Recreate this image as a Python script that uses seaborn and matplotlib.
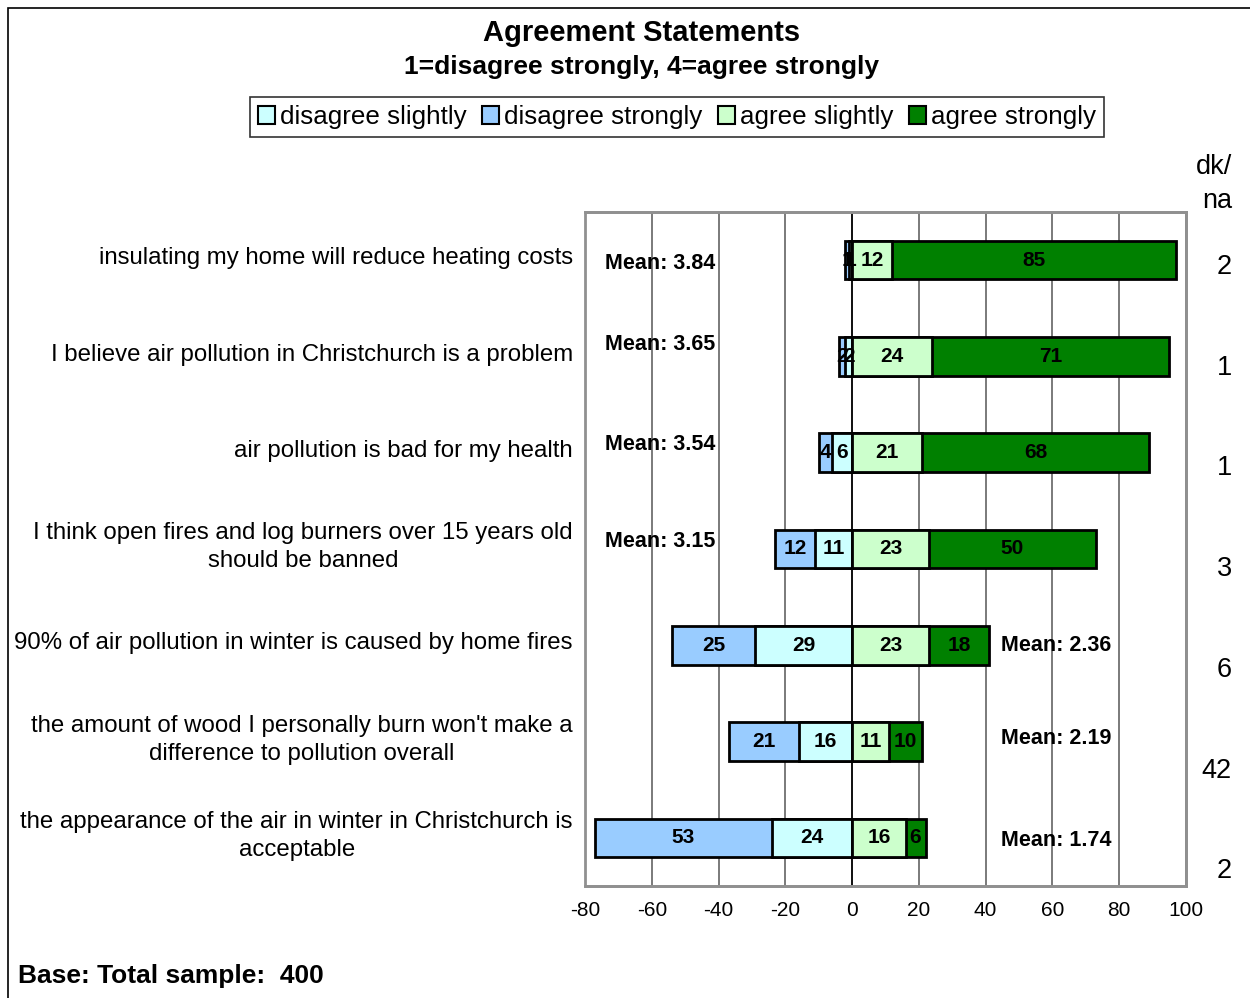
import pandas as pd
import matplotlib.pyplot as plt
import seaborn as sns
from matplotlib.patches import Rectangle, Patch

# Данные
statements = [
    "insulating my home will reduce heating costs",
    "I believe air pollution in Christchurch is a problem",
    "air pollution is bad for my health",
    "I think open fires and log burners over 15 years old\nshould be banned",
    "90% of air pollution in winter is caused by home fires",
    "the amount of wood I personally burn won't make a\ndifference to pollution overall",
    "the appearance of the air in winter in Christchurch is\nacceptable",
]
disagree_strongly = [1, 2, 4, 12, 25, 21, 53]
disagree_slightly = [1, 2, 6, 11, 29, 16, 24]
agree_slightly = [12, 24, 21, 23, 23, 11, 16]
agree_strongly = [85, 71, 68, 50, 18, 10, 6]
means = [3.84, 3.65, 3.54, 3.15, 2.36, 2.19, 1.74]
dk_na = [2, 1, 1, 3, 6, 42, 2]
x_ticks = [-80, -60, -40, -20, 0, 20, 40, 60, 80, 100]

colors = {
    "disagree slightly": "#CCFFFF",
    "disagree strongly": "#99CCFF",
    "agree slightly": "#CCFFCC",
    "agree strongly": "#008000",
}

df = pd.DataFrame({
    "statement": statements,
    "ds": disagree_strongly,
    "dsl": disagree_slightly,
    "asl": agree_slightly,
    "ast": agree_strongly,
})
# накопленные значения для "стопки"
df["neg_total"] = -(df["ds"] + df["dsl"])
df["neg_inner"] = -df["dsl"]
df["pos_total"] = df["asl"] + df["ast"]
df["pos_inner"] = df["asl"]

sns.set_style("white")
plt.rcParams["font.family"] = ["Liberation Sans", "DejaVu Sans"]
plt.rcParams["text.color"] = "black"
plt.rcParams["xtick.color"] = "black"
plt.rcParams["ytick.color"] = "black"

fig = plt.figure(figsize=(12.5, 9.98), dpi=100)
ax = fig.add_axes([585 / 1250, 1 - 886 / 998, 601 / 1250, 674 / 998])

bar_kw = dict(y="statement", order=statements, orient="h", width=0.4,
              edgecolor="black", linewidth=2, saturation=1, errorbar=None,
              ax=ax, zorder=3)
sns.barplot(data=df, x="neg_total", color=colors["disagree strongly"], **bar_kw)
sns.barplot(data=df, x="neg_inner", color=colors["disagree slightly"], **bar_kw)
sns.barplot(data=df, x="pos_total", color=colors["agree strongly"], **bar_kw)
sns.barplot(data=df, x="pos_inner", color=colors["agree slightly"], **bar_kw)

ax.set_xlim(-80, 100)
ax.set_ylim(len(statements) - 0.5, -0.5)
ax.set_xlabel("")
ax.set_ylabel("")
ax.set_xticks(x_ticks)
ax.set_xticklabels([str(t) for t in x_ticks], fontsize=15)
ax.xaxis.grid(True, color="#707070", linewidth=1.3, zorder=0)
ax.set_axisbelow(True)

# ось Y на нуле с делениями между строками
ax.spines["left"].set_position(("data", 0))
ax.spines["left"].set_color("black")
ax.spines["left"].set_linewidth(1.2)
ax.set_yticks([i + 0.5 for i in range(len(statements) - 1)])
ax.set_yticklabels([])
ax.tick_params(axis="y", direction="out", length=6, width=1.2, color="#444444")
ax.tick_params(axis="x", direction="out", length=5, width=1.2, color="#808080", pad=6)
for s in ["top", "right", "bottom"]:
    ax.spines[s].set_color("#909090")
    ax.spines[s].set_linewidth(2)
ax.add_patch(Rectangle((0, 0), 1, 1, transform=ax.transAxes, fill=False,
                       edgecolor="#909090", linewidth=2, zorder=5, clip_on=False))

# подписи значений внутри сегментов
for i, r in df.iterrows():
    segs = [
        (r["neg_total"] + r["ds"] / 2, r["ds"]),
        (-r["dsl"] / 2, r["dsl"]),
        (r["asl"] / 2, r["asl"]),
        (r["asl"] + r["ast"] / 2, r["ast"]),
    ]
    for xc, v in segs:
        ax.text(xc, i, str(v), ha="center", va="center", fontsize=15,
                fontweight="bold", zorder=6)

# средние (слева для длинных зелёных полос, справа для остальных)
mean_dy = [0.03, -0.12, -0.09, -0.08, 0.0, -0.03, 0.03]
for i, m in enumerate(means):
    mx = -74 if df.loc[i, "pos_total"] > 50 else 44.7
    ax.text(mx, i + mean_dy[i], f"Mean: {m:.2f}", ha="left", va="center",
            fontsize=15.5, fontweight="bold", zorder=6)

# подписи утверждений
for i, s in enumerate(statements):
    ax.text(-0.02, i - 0.02, s, transform=ax.get_yaxis_transform(), ha="right",
            va="center", fontsize=17.3, multialignment="center",
            linespacing=1.35)

# dk/na справа
fig.text(1232 / 1250, 1 - 184 / 998, "dk/\nna", ha="right", va="center",
         fontsize=19.5, linespacing=1.45)
for i, v in enumerate(dk_na):
    fig.text(1232 / 1250, 1 - (267 + i * 100.7) / 998, str(v), ha="right",
             va="center", fontsize=19.5)

# заголовок
fig.text(642 / 1250, 1 - 33 / 998, "Agreement Statements", ha="center",
         va="center", fontsize=21, fontweight="bold")
fig.text(642 / 1250, 1 - 67 / 998, "1=disagree strongly, 4=agree strongly",
         ha="center", va="center", fontsize=19, fontweight="bold")

# легенда
handles = [Patch(facecolor=colors[k], edgecolor="black", linewidth=1.5)
           for k in colors]
leg = fig.legend(handles, list(colors.keys()), loc="center",
                 bbox_to_anchor=(677 / 1250, 1 - 117 / 998), ncol=4,
                 fontsize=18.7, frameon=True, fancybox=False, handlelength=0.65,
                 handleheight=0.65, handletextpad=0.2, columnspacing=0.6,
                 borderpad=0.3, borderaxespad=0)
leg.get_frame().set_edgecolor("black")
leg.get_frame().set_linewidth(1.2)

fig.text(18 / 1250, 1 - 976 / 998, "Base: Total sample:  400", ha="left",
         va="center", fontsize=19, fontweight="bold")

# рамка
fig.add_artist(Rectangle((8 / 1250, -0.01), 1.0, 1 - 8 / 998 + 0.01,
                         transform=fig.transFigure, fill=False,
                         edgecolor="black", linewidth=1.2))

fig.savefig("out.png", dpi=100)
